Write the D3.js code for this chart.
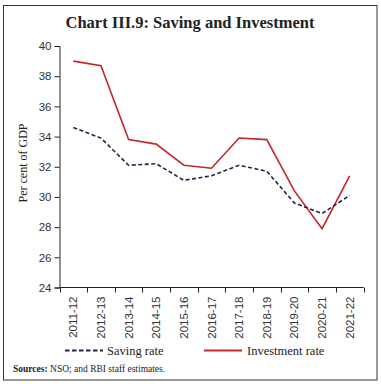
<!DOCTYPE html>
<html><head><meta charset="utf-8">
<script src="https://cdn.jsdelivr.net/npm/d3@7"></script>
<style>body{margin:0;background:#fff}svg{display:block}</style>
</head><body>
<script>
const categories = ["2011-12","2012-13","2013-14","2014-15","2015-16","2016-17","2017-18","2018-19","2019-20","2020-21","2021-22"];
const savingRate = [34.6, 33.9, 32.1, 32.2, 31.1, 31.4, 32.1, 31.7, 29.6, 28.9, 30.1];
const investmentRate = [39.0, 38.7, 33.8, 33.5, 32.1, 31.9, 33.9, 33.8, 30.4, 27.9, 31.4];
const yTicks = [24, 26, 28, 30, 32, 34, 36, 38, 40];

const W = 381, H = 384;
const svg = d3.select("body").append("svg").attr("width", W).attr("height", H);
svg.append("rect").attr("x", 3.5).attr("y", 5.5).attr("width", 373.5).attr("height", 374.5)
  .attr("fill", "none").attr("stroke", "#333").attr("stroke-width", 1);

const serif = "'Liberation Serif', 'DejaVu Serif', serif";
const sans = "'Liberation Sans', 'DejaVu Sans', sans-serif";

svg.append("text").attr("x", 190).attr("y", 28).attr("text-anchor", "middle")
  .attr("font-family", serif).attr("font-weight", "bold").attr("font-size", 16.5).attr("fill", "#222")
  .text("Chart III.9: Saving and Investment");

const x = d3.scaleBand().domain(categories).range([59.5, 363.5]);
const y = d3.scaleLinear().domain([24, 40]).range([287.5, 46]);

const xAxis = svg.append("g").attr("transform", "translate(0,287.5)");
xAxis.append("line").attr("x1", 59.5).attr("x2", 363.5).attr("stroke", "#222");
const bounds = categories.map(c => x(c)).concat([x.range()[1]]);
xAxis.selectAll("line.t").data(bounds).join("line").attr("class", "t")
  .attr("x1", d => Math.round(d) + 0.5).attr("x2", d => Math.round(d) + 0.5).attr("y1", 0).attr("y2", 5).attr("stroke", "#222");
xAxis.selectAll("text").data(categories).join("text")
  .attr("transform", d => `translate(${x(d) + x.bandwidth() / 2 + 4},9) rotate(-90)`)
  .attr("text-anchor", "end").attr("font-family", sans).attr("font-size", 11.5).attr("fill", "#333")
  .text(d => d);

const yAxis = d3.axisLeft(y).tickValues(yTicks).tickSize(5).tickPadding(3);
const yg = svg.append("g").attr("transform", "translate(59.5,0)").call(yAxis);
yg.select(".domain").attr("stroke", "#222");
yg.selectAll(".tick line").attr("stroke", "#222");
yg.selectAll(".tick text").attr("font-family", sans).attr("font-size", 11.5).attr("fill", "#333");

svg.append("text").attr("transform", "translate(27,163) rotate(-90)").attr("text-anchor", "middle")
  .attr("font-family", serif).attr("font-size", 12).attr("fill", "#222").text("Per cent of GDP");

const line = d3.line().x((d, i) => x(categories[i]) + x.bandwidth() / 2).y(d => y(d));
svg.append("path").datum(investmentRate).attr("d", line).attr("fill", "none")
  .attr("stroke", "#c1272d").attr("stroke-width", 1.6);
svg.append("path").datum(savingRate).attr("d", line).attr("fill", "none")
  .attr("stroke", "#1b2744").attr("stroke-width", 1.6).attr("stroke-dasharray", "4,2.5");

// legend
svg.append("line").attr("x1", 65).attr("x2", 103).attr("y1", 350.5).attr("y2", 350.5)
  .attr("stroke", "#1b2744").attr("stroke-width", 1.8).attr("stroke-dasharray", "4.5,2.5");
svg.append("text").attr("x", 107).attr("y", 354.5).attr("font-family", serif).attr("font-size", 12.5).attr("fill", "#222").text("Saving rate");
svg.append("line").attr("x1", 204).attr("x2", 242).attr("y1", 350.5).attr("y2", 350.5)
  .attr("stroke", "#c1272d").attr("stroke-width", 1.8);
svg.append("text").attr("x", 247).attr("y", 354.5).attr("font-family", serif).attr("font-size", 12.5).attr("fill", "#222").text("Investment rate");

const src = svg.append("text").attr("x", 13).attr("y", 372).attr("font-family", serif).attr("font-size", 9.5).attr("fill", "#222");
src.append("tspan").attr("font-weight", "bold").text("Sources:");
src.append("tspan").text(" NSO; and RBI staff estimates.");
</script>
</body></html>
